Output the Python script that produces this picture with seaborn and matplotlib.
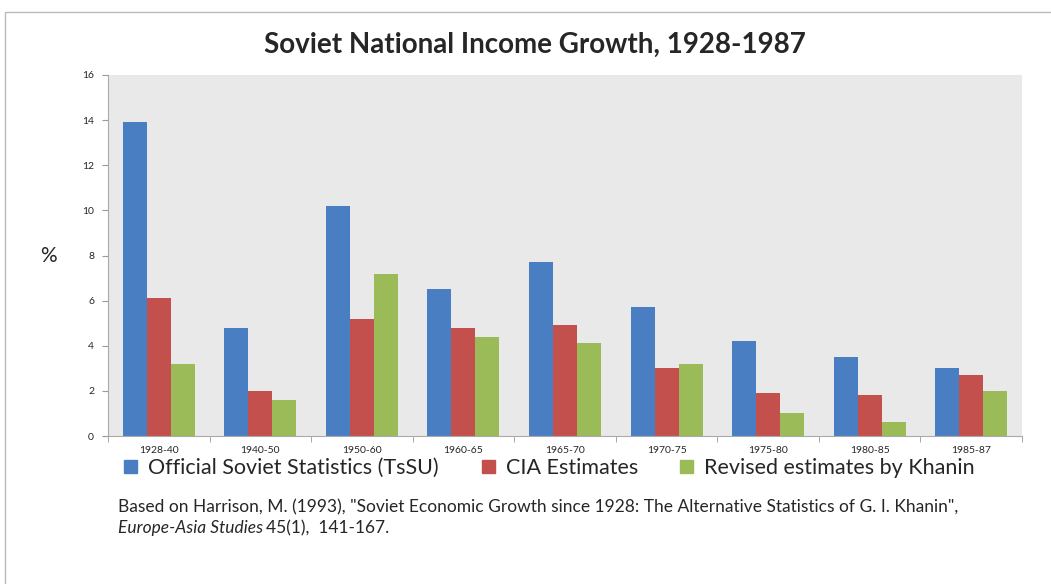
import seaborn as sns
import matplotlib.pyplot as plt
import matplotlib.patches as mpatches
import pandas as pd

# data
periods = ["1928-40", "1940-50", "1950-60", "1960-65", "1965-70",
           "1970-75", "1975-80", "1980-85", "1985-87"]
official = [13.9, 4.8, 10.2, 6.5, 7.7, 5.7, 4.2, 3.5, 3.0]
cia = [6.1, 2.0, 5.2, 4.8, 4.9, 3.0, 1.9, 1.8, 2.7]
khanin = [3.2, 1.6, 7.2, 4.4, 4.1, 3.2, 1.0, 0.6, 2.0]
series = ["Official Soviet Statistics (TsSU)", "CIA Estimates",
          "Revised estimates by Khanin"]
colors = ["#4A7EC2", "#C4504D", "#9BBB59"]

df = pd.DataFrame({"period": periods * 3,
                   "value": official + cia + khanin,
                   "series": [series[0]] * 9 + [series[1]] * 9 + [series[2]] * 9})

sns.set_style("white")
plt.rcParams['font.family'] = ['Lato', 'DejaVu Sans']

fig = plt.figure(figsize=(10.51, 5.84), dpi=100)
ax = fig.add_axes([108 / 1051, 1 - 436 / 584, (1022 - 108) / 1051, (436 - 75) / 584])
ax.set_facecolor("#E9E9E9")

sns.barplot(data=df, x="period", y="value", hue="series", palette=colors,
            width=0.71, gap=0, saturation=1, linewidth=0, ax=ax, legend=False)

ax.set_ylim(0, 16)
ax.set_yticks(range(0, 17, 2))
ax.set_xlim(-0.5, 8.5)
ax.set_xlabel("")
ax.set_ylabel("%", rotation=0, fontsize=15, labelpad=24, va="center")
ax.tick_params(axis="y", labelsize=7.5, length=4, color="#999999", left=True, pad=6)
ax.tick_params(axis="x", labelsize=7.5, length=0, pad=7)
# ticks between the groups, like Excel
ax.set_xticks([i + 0.5 for i in range(-1, 9)], minor=True)
ax.tick_params(axis="x", which="minor", length=4, color="#999999", bottom=True)
for s in ["top", "right"]:
    ax.spines[s].set_visible(False)
for s in ["left", "bottom"]:
    ax.spines[s].set_color("#AAAAAA")
    ax.spines[s].set_linewidth(0.8)

fig.text(535 / 1051, 1 - 45 / 584, "Soviet National Income Growth, 1928-1987",
         ha="center", va="center", fontsize=20, fontweight="bold")

# legend entries placed one by one to spread them like the original
legend_x = [124, 482, 680]
for c, s, x in zip(colors, series, legend_x):
    fig.legend(handles=[mpatches.Patch(color=c, label=s)], loc="center left",
               bbox_to_anchor=(x / 1051, 1 - 468 / 584), frameon=False,
               fontsize=15.5, handlelength=0.6, handleheight=0.6,
               handletextpad=0.5, borderaxespad=0, borderpad=0)

fig.text(118 / 1051, 1 - 507 / 584,
         'Based on Harrison, M. (1993), "Soviet Economic Growth since 1928: '
         'The Alternative Statistics of G. I. Khanin",',
         fontsize=12.5, va="center")
t1 = fig.text(118 / 1051, 1 - 528 / 584, "Europe-Asia Studies", fontsize=12.5,
              va="center", style="italic")
fig.canvas.draw()
bb = t1.get_window_extent()
fig.text(bb.x1 / fig.bbox.width + 0.003, 1 - 528 / 584, "45(1),  141-167.",
         fontsize=12.5, va="center")

# chart border
fig.patches.append(mpatches.Rectangle((5 / 1051, -0.05), 1.2, 1.05 - 12 / 584,
                                      transform=fig.transFigure, fill=False,
                                      edgecolor="#BBBBBB", linewidth=1))

fig.savefig("out.png", dpi=100)
